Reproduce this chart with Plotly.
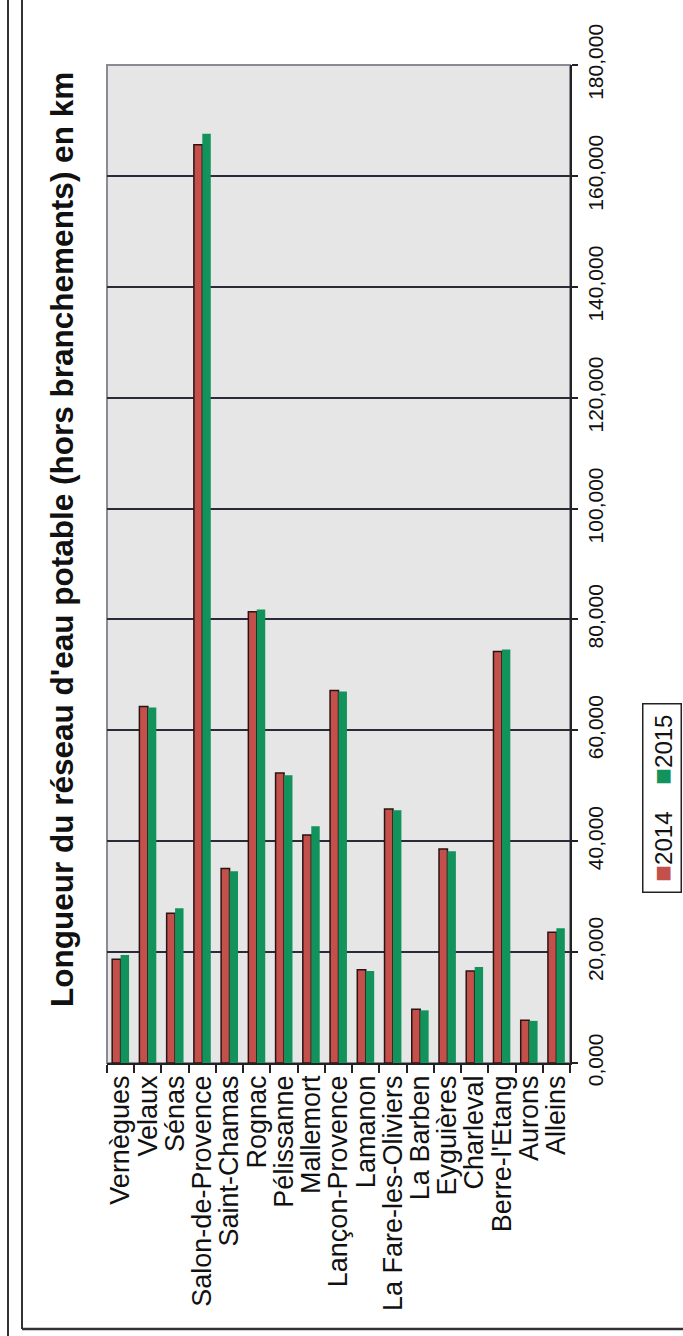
import plotly.graph_objects as go

categories = ["Vernègues", "Velaux", "Sénas", "Salon-de-Provence", "Saint-Chamas",
              "Rognac", "Pélissanne", "Mallemort", "Lançon-Provence", "Lamanon",
              "La Fare-les-Oliviers", "La Barben", "Eyguières", "Charleval",
              "Berre-l'Etang", "Aurons", "Alleins"]
values_2014 = [18700, 64300, 27000, 165600, 35100, 81400, 52300, 41100, 67200, 16800,
               45800, 9700, 38600, 16600, 74200, 7700, 23600]
values_2015 = [19500, 64100, 27900, 167600, 34600, 81800, 51900, 42700, 67000, 16600,
               45600, 9500, 38200, 17300, 74600, 7600, 24300]
series_names = ["2014", "2015"]
tick_values = [0, 20000, 40000, 60000, 80000, 100000, 120000, 140000, 160000, 180000]
tick_labels = ["0,000", "20,000", "40,000", "60,000", "80,000", "100,000",
               "120,000", "140,000", "160,000", "180,000"]
title_text = "Longueur du réseau d'eau potable (hors branchements) en km"

RED = "#c4504c"
GREEN = "#12935c"
W, H = 683, 1336
FONT = "Liberation Sans, Arial, sans-serif"

fig = go.Figure()
fig.add_trace(go.Bar(x=categories, y=values_2014, name=series_names[0],
                     marker=dict(color=RED, line=dict(color="#2a1414", width=1.5))))
fig.add_trace(go.Bar(x=categories, y=values_2015, name=series_names[1],
                     marker=dict(color=GREEN, line=dict(width=0))))

x0, x1 = 107, 570
y0, y1 = 65, 1063

fig.update_layout(
    width=W, height=H,
    margin=dict(l=0, r=0, t=0, b=0, autoexpand=False),
    paper_bgcolor="white",
    plot_bgcolor="#e6e6e6",
    showlegend=False,
    barmode="group",
    bargap=0.38,
    bargroupgap=0.0,
    font=dict(family=FONT, color="#111"),
    xaxis=dict(
        domain=[x0 / W, x1 / W],
        automargin=False,
        tickmode="linear", tick0=0, dtick=1,
        tickangle=-90,
        tickfont=dict(size=27, family=FONT, color="#111"),
        ticks="outside", ticklen=8, tickcolor="#222", tickwidth=1.5,
        tickson="boundaries",
        showline=True, linecolor="#222", linewidth=1.5,
        showgrid=False,
    ),
    yaxis=dict(
        domain=[1 - y1 / H, 1 - y0 / H],
        automargin=False,
        side="right",
        range=[0, 180000],
        tickvals=tick_values,
        ticktext=tick_labels,
        tickangle=-90,
        tickfont=dict(size=21, family=FONT, color="#111"),
        ticks="outside", ticklen=6, tickcolor="#222", tickwidth=1.5,
        showline=True, linecolor="#222", linewidth=1.5,
        showgrid=True, gridcolor="#2a2a38", gridwidth=1.5,
        zeroline=False,
    ),
)

# plot area border (gray)
fig.add_shape(type="rect", xref="paper", yref="paper",
              x0=x0 / W, x1=x1 / W, y0=1 - y1 / H, y1=1 - y0 / H,
              line=dict(color="#8a8a96", width=2), layer="below")

# title
fig.add_annotation(text="<b>" + title_text + "</b>", textangle=-90,
                   xref="paper", yref="paper", x=62 / W, y=1 - 540 / H,
                   showarrow=False, font=dict(size=31.5, family=FONT, color="#111"),
                   xanchor="center", yanchor="middle")

# legend (rotated)
legend_text = ('&nbsp;<span style="color:%s;font-size:28px">■</span>%s&nbsp;&nbsp;&nbsp;&nbsp;'
               '<span style="color:%s;font-size:28px">■</span>%s&nbsp;'
               % (RED, series_names[0], GREEN, series_names[1]))
fig.add_annotation(text=legend_text, textangle=-90,
                   xref="paper", yref="paper", x=662 / W, y=1 - 798 / H,
                   showarrow=False, font=dict(size=24, family=FONT, color="#111"),
                   bordercolor="#222", borderwidth=1.5, borderpad=3,
                   bgcolor="white", xanchor="center", yanchor="middle")

# page frame lines
fig.add_shape(type="line", xref="paper", yref="paper",
              x0=8 / W, x1=8 / W, y0=0, y1=1, line=dict(color="#333", width=2))
fig.add_shape(type="line", xref="paper", yref="paper",
              x0=22 / W, x1=22 / W, y0=1 - 1329 / H, y1=1, line=dict(color="#333", width=2))
fig.add_shape(type="line", xref="paper", yref="paper",
              x0=22 / W, x1=1, y0=1 - 1329 / H, y1=1 - 1329 / H, line=dict(color="#333", width=2.5))

fig.write_html("out.html", config={"displayModeBar": False},
               post_script="document.body.style.margin='0';document.body.style.padding='0';")
